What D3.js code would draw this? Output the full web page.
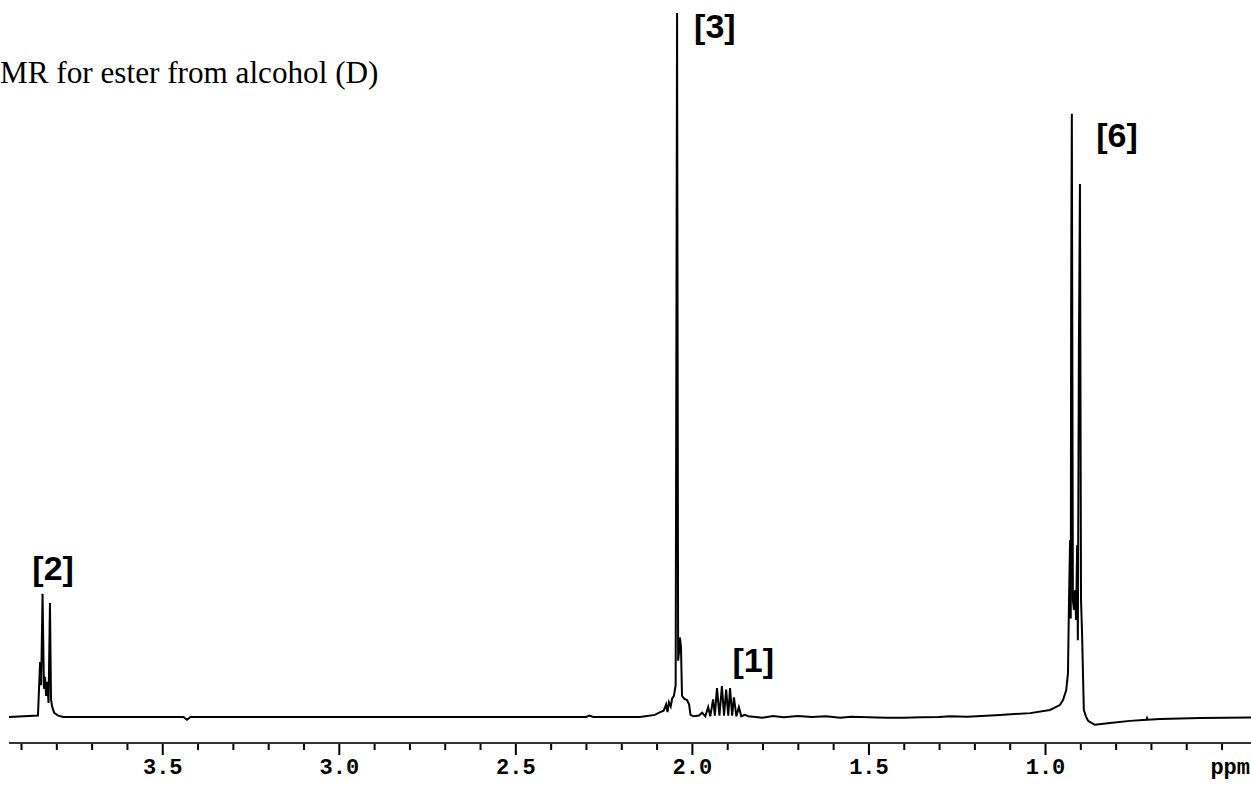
<!DOCTYPE html>
<html>
<head>
<meta charset="utf-8">
<script src="https://cdn.jsdelivr.net/npm/d3@7/dist/d3.min.js"></script>
<style>
  html, body { margin: 0; padding: 0; background: #fff; }
  svg { display: block; }
</style>
</head>
<body>
<div id="chart"></div>
<script>
// ---- data ----
const titleText = "MR for ester from alcohol (D)";
const unitLabel = "ppm";
const majorTicks = [3.5, 3.0, 2.5, 2.0, 1.5, 1.0];
const majorTickLabels = ["3.5", "3.0", "2.5", "2.0", "1.5", "1.0"];
const minorTicks = [3.9, 3.8, 3.7, 3.6, 3.4, 3.3, 3.2, 3.1, 2.9, 2.8, 2.7, 2.6, 2.4, 2.3, 2.2, 2.1,
                    1.9, 1.8, 1.7, 1.6, 1.4, 1.3, 1.2, 1.1, 0.9, 0.8, 0.7, 0.6, 0.5];
const ppmDomain = [3.9595, 0.4166];
const axisExtent = [3.934, 0.4166];

// spectrum trace: chemical shift (ppm) and relative intensity (tallest = 100)
const shiftPpm = [
  3.934, 3.852, 3.846, 3.843, 3.839, 3.835, 3.832, 3.829, 3.826, 3.822, 3.818, 3.815, 3.812, 3.806, 3.795, 3.780,
  3.440, 3.430, 3.420,
  2.300, 2.290, 2.280, 2.147, 2.105, 2.090, 2.080, 2.073, 2.069, 2.065, 2.060, 2.056, 2.051, 2.046,
  2.042, 2.039, 2.036, 2.034, 2.031, 2.028, 2.022, 2.014, 2.008, 2.004, 1.995, 1.980, 1.971, 1.962,
  1.954, 1.948, 1.940, 1.935, 1.929, 1.922, 1.915, 1.909, 1.903, 1.897, 1.892, 1.886, 1.881, 1.874, 1.867, 1.860, 1.850,
  1.840, 1.800, 1.770, 1.740, 1.700, 1.660, 1.620, 1.580, 1.550, 1.500, 1.450, 1.400, 1.350, 1.300, 1.270, 1.220, 1.180,
  1.127, 1.042, 0.986, 0.958, 0.949, 0.940, 0.935, 0.932, 0.929, 0.927, 0.926, 0.924, 0.921, 0.918, 0.915, 0.912,
  0.909, 0.907, 0.904, 0.901, 0.898, 0.895, 0.892, 0.890, 0.884, 0.878, 0.859, 0.816, 0.759, 0.713, 0.711, 0.709,
  0.674, 0.561, 0.4166
];
const intensity = [
  0, 0.2, 7.8, 4.5, 17.5, 4.0, 5.7, 3.0, 5.0, 2.0, 16.2, 2.5, 1.5, 0.6, 0.2, 0,
  0, -0.4, 0,
  0, 0.2, 0, 0, 0.3, 0.7, 0.9, 1.8, 0.7, 2.1, 1.5, 2.6, 3.0, 4.5,
  100, 8.0, 9.5, 11.3, 10.0, 3.0, 2.6, 2.4, 1.8, 0.3, 0.1, 0.2, 0.6, 0.1,
  1.4, 0.1, 2.5, 0.2, 4.1, 0.2, 4.4, 0.2, 3.9, 0.2, 4.1, 0.2, 2.8, 0.1, 1.4, 0.1, 0.3,
  0.1, -0.1, 0.15, -0.05, 0.15, 0, 0.1, -0.1, 0.05, -0.05, -0.1, -0.1, -0.05, 0, 0.1, 0.05, 0.15,
  0.3, 0.55, 1.0, 1.7, 2.4, 3.8, 6.2, 16.6, 25.1, 14.0, 58.2, 85.7, 16.6, 15.2, 18.0, 13.8,
  24.4, 10.9, 52.5, 75.7, 16.6, 11.9, 5.2, 1.0, 0.1, -0.55, -1.1, -0.85, -0.55, -0.4, -0.15, -0.4,
  -0.3, -0.15, -0.07
];

// peak annotations (label centre in ppm, baseline level in intensity units)
const peakLabels = ["[2]", "[3]", "[1]", "[6]"];
const peakLabelPpm = [3.809, 1.935, 1.826, 0.796];
const peakLabelLevel = [19.5, 96.45, 6.4, 81.0];

// ---- drawing ----
const W = 1251, H = 788;
const svg = d3.select("#chart").append("svg").attr("width", W).attr("height", H);

const x = d3.scaleLinear().domain(ppmDomain).range([0, W]);
const y = d3.scaleLinear().domain([0, 100]).range([717, 13]);
const axisY = 743;

// title
svg.append("text")
  .attr("x", 0).attr("y", 83)
  .attr("font-family", "'Times New Roman', 'Liberation Serif', serif")
  .attr("font-size", 31.2)
  .attr("fill", "#000")
  .text(titleText);

// spectrum
const pts = shiftPpm.map((p, i) => [p, intensity[i]]);
svg.append("path")
  .datum(pts)
  .attr("fill", "none")
  .attr("stroke", "#000")
  .attr("stroke-width", 2)
  .attr("stroke-linejoin", "miter")
  .attr("d", d3.line().x(d => x(d[0])).y(d => y(d[1])));

// axis
const gMinor = svg.append("g").attr("transform", `translate(0,${axisY})`)
  .call(d3.axisBottom(x).tickValues(minorTicks).tickSize(7).tickFormat(""));
gMinor.select(".domain").remove();
gMinor.selectAll(".tick line").attr("stroke", "#000").attr("stroke-width", 2);

const gMajor = svg.append("g").attr("transform", `translate(0,${axisY})`)
  .call(d3.axisBottom(x).tickValues(majorTicks).tickSize(12).tickPadding(3)
        .tickFormat((d, i) => majorTickLabels[i]));
gMajor.select(".domain").remove();
gMajor.selectAll(".tick line").attr("stroke", "#000").attr("stroke-width", 2);
gMajor.selectAll(".tick text")
  .attr("font-family", "'Courier New', 'Liberation Mono', monospace")
  .attr("font-weight", "bold")
  .attr("font-size", 22)
  .attr("fill", "#000");

svg.append("line")
  .attr("x1", x(axisExtent[0])).attr("x2", x(axisExtent[1]))
  .attr("y1", axisY).attr("y2", axisY)
  .attr("stroke", "#333").attr("stroke-width", 2);

svg.append("text")
  .attr("x", W - 1).attr("y", 774)
  .attr("text-anchor", "end")
  .attr("font-family", "'Courier New', 'Liberation Mono', monospace")
  .attr("font-weight", "bold")
  .attr("font-size", 22)
  .attr("fill", "#000")
  .text(unitLabel);

// peak labels
svg.selectAll("text.peak")
  .data(peakLabels)
  .enter().append("text")
  .attr("class", "peak")
  .attr("x", (d, i) => x(peakLabelPpm[i]))
  .attr("y", (d, i) => y(peakLabelLevel[i]))
  .attr("text-anchor", "middle")
  .attr("font-family", "Arial, 'Liberation Sans', sans-serif")
  .attr("font-weight", "bold")
  .attr("font-size", 34)
  .attr("fill", "#000")
  .text(d => d);
</script>
</body>
</html>
